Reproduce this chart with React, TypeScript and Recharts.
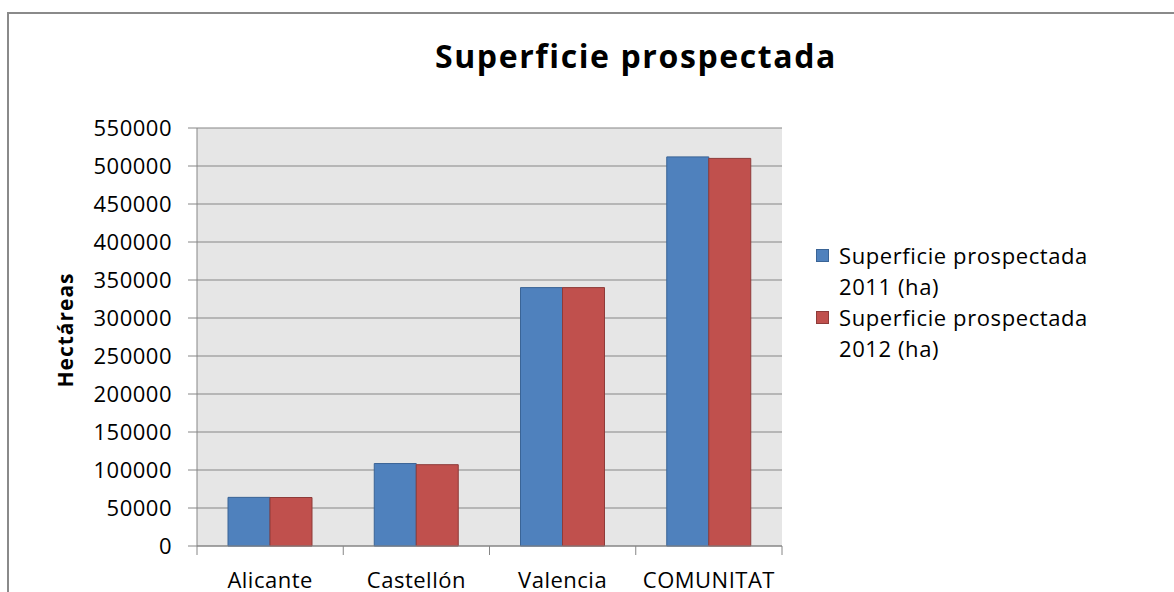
import React from 'react';
import { BarChart, Bar, XAxis, YAxis, CartesianGrid, Legend, Label } from 'recharts';

const categories = ['Alicante', 'Castellón', 'Valencia', 'COMUNITAT'];
const sup2011 = [64000, 108500, 340000, 512000];
const sup2012 = [63800, 107000, 340000, 510000];
const seriesNames = ['Superficie prospectada 2011 (ha)', 'Superficie prospectada 2012 (ha)'];
const yTicks = [0, 50000, 100000, 150000, 200000, 250000, 300000, 350000, 400000, 450000, 500000, 550000];

const data = categories.map((name, i) => ({ name, s2011: sup2011[i], s2012: sup2012[i] }));

const FONT = '"Open Sans", Lato, sans-serif';
const AXIS = '#868686';

const CategoryTick = (props: any) => {
  const { x, y, payload, index } = props;
  const half = payload && typeof payload.offset === 'number' ? payload.offset : 0;
  const last = index === categories.length - 1;
  return (
    <g>
      <line x1={x - half} x2={x - half} y1={y} y2={y + 9} stroke={AXIS} />
      {last ? <line x1={x + half} x2={x + half} y1={y} y2={y + 9} stroke={AXIS} /> : null}
      <text
        x={x}
        y={y + 42}
        textAnchor="middle"
        fontFamily={FONT}
        fontSize={22}
        letterSpacing={0.5}
        fill="#000"
      >
        {payload.value}
      </text>
    </g>
  );
};

const LegendContent = (props: any) => {
  const payload = props.payload || [];
  return (
    <div style={{ fontFamily: FONT, fontSize: 22, lineHeight: '31px', letterSpacing: 0.6, color: '#000' }}>
      {payload.map((p: any, i: number) => (
        <div key={i} style={{ display: 'flex', alignItems: 'flex-start' }}>
          <span
            style={{
              display: 'inline-block',
              flex: 'none',
              width: 13,
              height: 13,
              marginTop: 9,
              marginRight: 10,
              background: p.color,
              border: `1px solid ${i === 0 ? '#3A6496' : '#8E3B39'}`,
              boxSizing: 'border-box',
            }}
          />
          <span style={{ width: 270, display: 'inline-block' }}>{p.value}</span>
        </div>
      ))}
    </div>
  );
};

const YLabel = (props: any) => {
  const vb = props.viewBox || { x: 0, y: 0, width: 0, height: 0 };
  const x = vb.x + 73;
  const y = vb.y + vb.height / 2 - 7;
  return (
    <text
      x={x}
      y={y}
      transform={`rotate(-90, ${x}, ${y})`}
      textAnchor="middle"
      fontFamily={FONT}
      fontWeight={700}
      fontSize={21}
      letterSpacing={1}
      fill="#000"
    >
      Hectáreas
    </text>
  );
};

export default function App() {
  return (
    <div style={{ position: 'absolute', left: 0, top: 0, width: 1174, height: 592, background: '#fff', overflow: 'hidden' }}>
      <div
        style={{
          position: 'absolute',
          left: 7,
          top: 12,
          width: 1200,
          height: 700,
          borderLeft: '2px solid #8a8a8a',
          borderTop: '2px solid #8a8a8a',
        }}
      />
      <div
        style={{
          position: 'absolute',
          left: 0,
          width: 1272,
          top: 40,
          textAlign: 'center',
          fontFamily: FONT,
          fontWeight: 700,
          fontSize: 32,
          lineHeight: '32px',
          letterSpacing: 1.6,
          color: '#000',
        }}
      >
        Superficie prospectada
      </div>
      <div style={{ position: 'absolute', left: 0, top: 0 }}>
        <BarChart
          width={1174}
          height={592}
          data={data}
          margin={{ top: 128, right: 392, bottom: 0, left: 0 }}
          barSize={42}
          barGap={0}
        >
          <CartesianGrid vertical={false} fill="#e6e6e6" stroke={AXIS} strokeWidth={1.2} />
          <XAxis
            dataKey="name"
            height={46}
            tickLine={false}
            tickSize={0}
            tickMargin={0}
            axisLine={{ stroke: AXIS }}
            tick={CategoryTick}
            interval={0}
          />
          <YAxis
            width={197}
            domain={[0, 550000]}
            ticks={yTicks}
            interval={0}
            tickSize={9}
            tickMargin={16}
            tickLine={{ stroke: AXIS }}
            axisLine={{ stroke: AXIS }}
            tick={{ fontFamily: FONT, fontSize: 22, fill: '#000', letterSpacing: 0.5 }}
          >
            <Label content={YLabel} />
          </YAxis>
          <Legend
            layout="vertical"
            align="center"
            verticalAlign="middle"
            content={LegendContent}
            wrapperStyle={{ position: 'absolute', left: 816, top: 240, width: 350 }}
          />
          <Bar dataKey="s2011" name={seriesNames[0]} fill="#4F81BD" stroke="#3A6496" strokeWidth={1} isAnimationActive={false} />
          <Bar dataKey="s2012" name={seriesNames[1]} fill="#C0504D" stroke="#8E3B39" strokeWidth={1} isAnimationActive={false} />
        </BarChart>
      </div>
    </div>
  );
}
